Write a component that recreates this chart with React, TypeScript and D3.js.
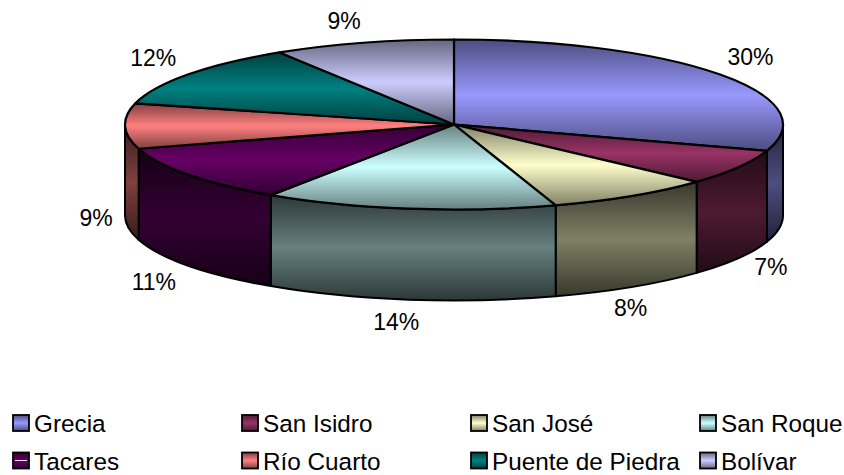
import * as d3 from "d3";

const categories = ["Grecia", "San Isidro", "San José", "San Roque", "Tacares", "Río Cuarto", "Puente de Piedra", "Bolívar"];
const values = [30, 6.8, 8.2, 14.4, 11, 8.6, 12.1, 8.9];
const colors = ["#9999ff", "#993366", "#ffffcc", "#ccffff", "#660066", "#ff8080", "#008080", "#ccccff"];

const width = 844;
const height = 475;
const cx = 454;
const cy = 124.5;
const rx = 329;
const ry = 85;
const depth = 91;

// small nudges for the percent labels, Excel places them by hand-ish rules
const labelNudge = [
  [-2, 0],
  [-2, -6],
  [-23, -4],
  [-7, -7],
  [-3, -2],
  [11, 46],
  [-3, 1],
  [-8, 7],
];

const x = d3.scaleLinear().domain([-1, 1]).range([cx - rx, cx + rx]);
const y = d3.scaleLinear().domain([-1, 1]).range([cy - ry, cy + ry]);
const px = (a: number) => x(Math.sin(a));
const py = (a: number) => y(-Math.cos(a));

const pie = d3.pie<number>().sort(null)(values);

const arc = d3
  .arc<d3.PieArcDatum<number>>()
  .innerRadius(0)
  .outerRadius(rx);

const shade = (c: string, k: number) => {
  const r = d3.rgb(c);
  return d3.rgb(r.r * k, r.g * k, r.b * k).formatHex();
};

// front wall of a slice, only the part between 90 and 270 degrees shows
const wallPath = (a0: number, a1: number) => {
  const s = Math.max(a0, Math.PI / 2);
  const e = Math.min(a1, (3 * Math.PI) / 2);
  if (e <= s) return null;
  return (
    `M${px(s)},${py(s)}A${rx},${ry} 0 0 1 ${px(e)},${py(e)}` +
    `L${px(e)},${py(e) + depth}A${rx},${ry} 0 0 0 ${px(s)},${py(s) + depth}Z`
  );
};

const labelPos = (d: d3.PieArcDatum<number>, i: number) => {
  const mid = (d.startAngle + d.endAngle) / 2;
  const front = Math.cos(mid) < -0.2;
  const sideShift = Math.cos(mid) < 0 ? depth : 0;
  const lx = cx + (rx + 40) * Math.sin(mid) + labelNudge[i][0];
  const ly = cy - (ry + 30) * Math.cos(mid) + (front ? sideShift : Math.cos(mid) < 0.2 ? depth / 2 : 0) + labelNudge[i][1];
  return [lx, ly];
};

const legendX = d3.scalePoint<number>().domain([0, 1, 2, 3]).range([13, 700]);
const legendY = d3.scalePoint<number>().domain([0, 1]).range([423, 460.5]);

const font = "'Liberation Sans', Arial, sans-serif";

export default function App() {
  return (
    <svg
      width={width}
      height={height}
      style={{ position: "absolute", left: 0, top: 0, background: "#fff" }}
      fontFamily={font}
    >
      <defs>
        {colors.map((c, i) => (
          <g key={i}>
            <linearGradient id={`top${i}`} x1="0" y1="0" x2="0" y2="1">
              <stop offset="0" stopColor={shade(c, 0.5)} />
              <stop offset="0.5" stopColor={c} />
              <stop offset="1" stopColor={shade(c, 0.5)} />
            </linearGradient>
            <linearGradient id={`wall${i}`} x1="0" y1="0" x2="0" y2="1">
              <stop offset="0" stopColor={shade(c, 0.22)} />
              <stop offset="0.5" stopColor={shade(c, 0.5)} />
              <stop offset="1" stopColor={shade(c, 0.22)} />
            </linearGradient>
          </g>
        ))}
      </defs>

      {pie.map((d, i) => {
        const p = wallPath(d.startAngle, d.endAngle);
        return p ? (
          <path key={i} d={p} fill={`url(#wall${i})`} stroke="#000" strokeWidth={2} strokeLinejoin="round" />
        ) : null;
      })}

      <g transform={`translate(${cx},${cy}) scale(1,${ry / rx})`}>
        {pie.map((d, i) => (
          <path
            key={i}
            d={arc(d) as string}
            fill={`url(#top${i})`}
            stroke="#000"
            strokeWidth={2.2}
            strokeLinejoin="round"
            vectorEffect="non-scaling-stroke"
          />
        ))}
      </g>

      {pie.map((d, i) => {
        const [lx, ly] = labelPos(d, i);
        return (
          <text key={i} x={lx} y={ly} textAnchor="middle" dominantBaseline="central" fontSize={23} fill="#000">
            {`${Math.round(d.value)}%`}
          </text>
        );
      })}

      {categories.map((name, i) => {
        const col = i % 4;
        const row = Math.floor(i / 4);
        const lx = legendX(col) as number;
        const ly = legendY(row) as number;
        return (
          <g key={name}>
            <rect x={lx} y={ly - 8} width={16} height={16} fill={`url(#top${i})`} stroke="#000" strokeWidth={1.8} />
            {/* the Tacares swatch has a light band through its middle */}
            {name === "Tacares" && <line x1={lx + 2} x2={lx + 14} y1={ly} y2={ly} stroke="#f0e0f0" strokeWidth={1} />}
            <text x={lx + 21} y={ly + 9} fontSize={24.3} fill="#000">
              {name}
            </text>
          </g>
        );
      })}
    </svg>
  );
}
